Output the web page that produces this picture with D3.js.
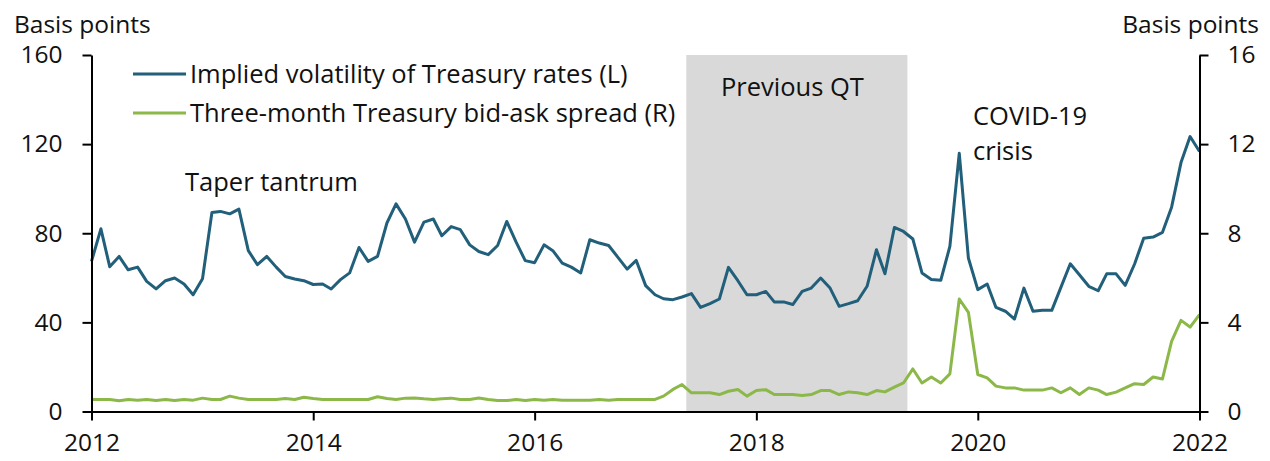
<!DOCTYPE html>
<html><head><meta charset="utf-8">
<script src="https://cdn.jsdelivr.net/npm/d3@7"></script>
<style>
body{margin:0;background:#fff}
text{font-family:'Open Sans',sans-serif;fill:#111}
</style>
</head><body>
<svg id="c" width="1270" height="461"></svg>
<script>
// ---- data ----
const startYear = 2012;
const volatility = [
 67.4, 82, 65, 69.6, 63.6, 64.8, 58.4, 55, 58.7, 59.9, 57.2, 52.4,
 59.6, 89.3, 89.8, 88.7, 90.8, 72.2, 65.9, 69.6, 64.8, 60.6, 59.5, 58.7,
 57, 57.2, 55, 59.2, 62.2, 73.6, 67.4, 69.6, 84.6, 93.2, 86.4, 76,
 85, 86.4, 78.9, 83, 81.6, 74.8, 71.8, 70.4, 74.5, 85.3, 76, 67.7,
 66.8, 74.8, 72.2, 66.6, 64.8, 62.2, 77.1, 75.6, 74.5, 69.3, 63.9, 67.8,
 56.5, 52.4, 50.6, 50.2, 51.4, 52.9, 46.7, 48.4, 50.5, 64.7, 58.7, 52.4,
 52.4, 53.9, 49.2, 49.2, 48, 53.9, 55.4, 59.9, 55.4, 47.2, 48.4, 49.7,
 56.2, 72.6, 61.8, 82.6, 80.8, 77.4, 62.2, 59.2, 58.9, 74.1, 115.9, 68.9,
 54.7, 57.2, 46.7, 45, 41.5, 55.4, 45, 45.4, 45.4, 55.7, 66.3, 61.4,
 56.2, 54.2, 61.8, 61.8, 56.6, 66.2, 77.8, 78.3, 80.4, 91.7, 111.7, 123.4,
 116.7
];
const bidAsk = [
 0.54, 0.54, 0.54, 0.48, 0.54, 0.51, 0.54, 0.49, 0.54, 0.49, 0.54, 0.51,
 0.6, 0.54, 0.54, 0.69, 0.6, 0.54, 0.54, 0.54, 0.54, 0.58, 0.54, 0.64,
 0.58, 0.54, 0.54, 0.54, 0.54, 0.54, 0.54, 0.66, 0.58, 0.54, 0.6, 0.61,
 0.57, 0.54, 0.57, 0.6, 0.54, 0.54, 0.61, 0.54, 0.49, 0.49, 0.54, 0.49,
 0.54, 0.51, 0.54, 0.51, 0.51, 0.51, 0.51, 0.54, 0.51, 0.54, 0.54, 0.54,
 0.54, 0.54, 0.69, 0.99, 1.21, 0.84, 0.84, 0.84, 0.76, 0.91, 0.99, 0.69,
 0.94, 0.98, 0.76, 0.76, 0.76, 0.72, 0.76, 0.94, 0.94, 0.76, 0.88, 0.84,
 0.76, 0.94, 0.88, 1.09, 1.28, 1.91, 1.28, 1.55, 1.28, 1.69, 5.05, 4.45,
 1.66, 1.51, 1.14, 1.06, 1.06, 0.96, 0.96, 0.96, 1.06, 0.84, 1.06, 0.76,
 1.06, 0.96, 0.76, 0.87, 1.06, 1.25, 1.21, 1.55, 1.46, 3.15, 4.09, 3.79,
 4.35
];
const xTickYears = [2012, 2014, 2016, 2018, 2020, 2022];
const leftTicks = [0, 40, 80, 120, 160];
const rightTicks = [0, 4, 8, 12, 16];
const seriesNames = ["Implied volatility of Treasury rates (L)", "Three-month Treasury bid-ask spread (R)"];
const qtPeriod = ["2017-05-15", "2019-05-14"];
const qtLabel = "Previous QT";
const taperLabel = "Taper tantrum";
const covidLabel = ["COVID-19", "crisis"];
const axisTitle = "Basis points";

// ---- chart ----
const L = 91.5, R = 1199.5, T = 55, B = 411.5;
const svg = d3.select("#c");
const FS = 24.5, LFS = 25.5;
const blue = "#215f7a", green = "#8cb84a";

const dates = volatility.map((_, i) => new Date(startYear, i, 1));
const x = d3.scaleTime().domain([new Date(2012,0,1), new Date(2022,0,1)]).range([L, R]);
const yL = d3.scaleLinear().domain([0,160]).range([B, T]);
const yR = d3.scaleLinear().domain([0,16]).range([B, T]);

// shading
const p = d3.timeParse("%Y-%m-%d");
svg.append("rect")
  .attr("x", x(p(qtPeriod[0]))).attr("y", T)
  .attr("width", x(p(qtPeriod[1])) - x(p(qtPeriod[0])))
  .attr("height", B - T).attr("fill", "#d9d9d9");

// lines
const lineL = d3.line().x((d,i)=>x(dates[i])).y(d=>yL(d));
const lineR = d3.line().x((d,i)=>x(dates[i])).y(d=>yR(d));
svg.append("path").datum(bidAsk).attr("d", lineR).attr("fill","none")
  .attr("stroke", green).attr("stroke-width", 3).attr("stroke-linejoin","round");
svg.append("path").datum(volatility).attr("d", lineL).attr("fill","none")
  .attr("stroke", blue).attr("stroke-width", 3).attr("stroke-linejoin","round");

// axes
function styleAxis(g){
  g.selectAll(".domain").attr("stroke","#000").attr("stroke-width",2);
  g.selectAll(".tick line").attr("stroke","#000").attr("stroke-width",2);
  g.selectAll(".tick text").style("font-family","'Open Sans',sans-serif").style("font-size",FS+"px").attr("fill","#111");
}
const gL = svg.append("g").attr("transform",`translate(${L},0)`)
  .call(d3.axisLeft(yL).tickValues(leftTicks).tickSize(9).tickSizeOuter(0).tickPadding(20));
styleAxis(gL);
const gR = svg.append("g").attr("transform",`translate(${R},0)`)
  .call(d3.axisRight(yR).tickValues(rightTicks).tickSize(9).tickSizeOuter(0).tickPadding(19));
styleAxis(gR);
const gB = svg.append("g").attr("transform",`translate(0,${B})`)
  .call(d3.axisBottom(x).tickValues(xTickYears.map(y=>new Date(y,0,1))).tickFormat(d3.timeFormat("%Y")).tickSize(9).tickSizeOuter(0).tickPadding(13));
styleAxis(gB);

// axis titles
svg.append("text").attr("x", 14).attr("y", 33).style("font-size",FS+"px").text(axisTitle);
svg.append("text").attr("x", 1259).attr("y", 33).attr("text-anchor","end").style("font-size",FS+"px").text(axisTitle);

// legend
const legY = [74, 113], legColors = [blue, green];
seriesNames.forEach((n,i)=>{
  svg.append("line").attr("x1",133).attr("x2",186).attr("y1",legY[i]).attr("y2",legY[i])
    .attr("stroke",legColors[i]).attr("stroke-width",3);
  svg.append("text").attr("x",190).attr("y",legY[i]+9).style("font-size",LFS+"px").text(n);
});

// annotations
svg.append("text").attr("x",185).attr("y",191).style("font-size",LFS+"px").text(taperLabel);
svg.append("text").attr("x",721).attr("y",96).style("font-size",LFS+"px").text(qtLabel);
covidLabel.forEach((t,i)=>svg.append("text").attr("x",973).attr("y",125+i*35).style("font-size",LFS+"px").text(t));
</script>
</body></html>
